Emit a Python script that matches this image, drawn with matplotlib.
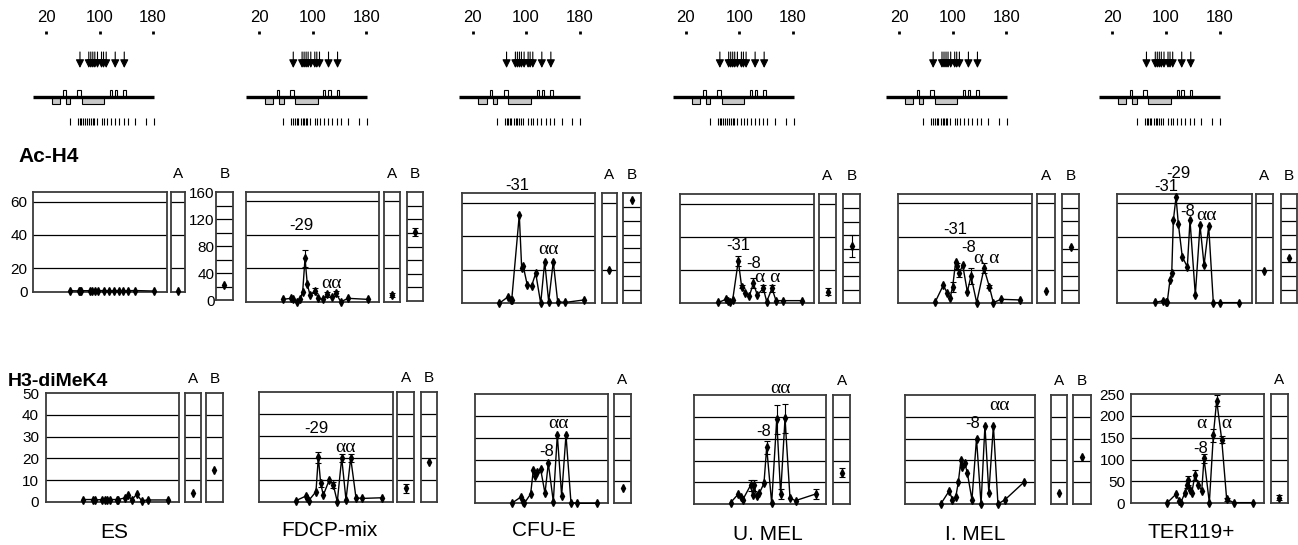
import numpy as np
import matplotlib.pyplot as plt
from matplotlib.patches import Rectangle

plt.rcParams['font.family'] = ['Liberation Sans', 'DejaVu Sans']

W, H = 1298, 545

# ---- gene map (positions on the locus) ----
scale_ticks = [20, 100, 180]
gene_line = [0, 181]
upper_exons = [(46, 49.5), (66.3, 72.3), (115.7, 118.7), (123.1, 126.6), (135.5, 139.6)]
lower_exons = [(28.5, 40.9), (49.9, 56.3), (73.3, 107.1)]
arrow_pos = [70.8, 84, 87, 90, 93, 97, 103, 106, 110, 123.5, 137]
probe_ticks = [56, 68, 71, 73, 76, 78, 82, 85, 87, 90, 92, 96, 103, 107, 111, 117,
               123, 129, 136, 142, 153, 169, 181]

cells = ["ES", "FDCP-mix", "CFU-E", "U. MEL", "I. MEL", "TER119+"]

# ---- Ac-H4 profiles ----
ac_es_x = [54.8, 68.3, 69.8, 71.3, 84.8, 88.8, 92.2, 97.2, 106.1, 113.6, 121.1, 128.1, 134.5, 142, 152, 180.9]
ac_es_y = [6.5, 6.4, 6.6, 6.5, 6.5, 6.6, 6.4, 6.5, 6.6, 6.5, 6.5, 6.6, 6.4, 6.5, 6.6, 6.3]

ac_fdcp_x = [55.6, 68.1, 71.6, 77.6, 81.6, 85.7, 89.2, 92.6, 96.7, 104.2, 109.2, 116.7, 122.7, 129.3, 135.8, 142.9, 154.3, 183.5]
ac_fdcp_y = [1.4, 2, 1.4, 0, 1.4, 6, 25.8, 10.5, 4, 6.5, 2, 1.4, 4.5, 2.6, 5, 0, 2, 1.4]
ac_fdcp_e = [0, 0, 0, 0, 0, 0, 5, 0, 0, 1.5, 0, 0, 1.5, 0, 1.5, 0, 0, 0]

ac_cfue_x = [55.6, 69.2, 72.8, 74.3, 85.7, 89.3, 91.7, 97.7, 104.3, 110.4, 117.9, 123.9, 129.9, 136.8, 143.4, 154.4, 182.9]
ac_cfue_y = [0, 4, 2, 2, 52.7, 20.9, 22, 10.9, 10.5, 17.9, 0, 24.9, 1, 24.9, 1, 0.5, 2]

ac_umel_x = [57.2, 68.7, 72.1, 74.6, 78.6, 87, 92, 97, 103.5, 109.5, 115.4, 124.4, 129.4, 137.3, 143.3, 154.2, 182.6]
ac_umel_y = [0.5, 2.4, 1.6, 1, 2, 25.5, 10, 6.4, 4.4, 12, 5, 9, 1, 9, 1.6, 1.6, 1.6]
ac_umel_e = [0, 0, 0, 0, 0, 3, 1, 0, 0, 3, 0, 2, 0, 2, 0, 0, 0]

ac_imel_x = [55, 67.5, 73.5, 77.5, 81.5, 86, 88.5, 91.5, 96.5, 103.5, 109, 117.5, 128.5, 136.5, 142.5, 154, 183]
ac_imel_y = [0.5, 10.9, 6, 3, 10, 24.9, 22.3, 18, 23, 7, 16.3, 0.4, 20.9, 10, 0.4, 2.4, 2]
ac_imel_e = [0, 0, 0, 0, 3, 0, 2, 2, 0, 0, 5, 0, 3, 1, 0, 0, 0]

ac_ter_x = [56, 68.5, 72.5, 74.4, 78.4, 81, 83.4, 87.4, 90.8, 96.7, 104.2, 108.2, 116.1, 123.1, 129.1, 136, 142.9, 152.8, 181.5]
ac_ter_y = [0.5, 1.6, 0.5, 1, 14, 18, 49.8, 63.7, 47.8, 27.9, 21.9, 49.8, 5, 46.8, 22.9, 46.2, 0.4, 0.4, 0.4]

ac_a_val = [6.3, 4, 19.9, 7, 7.4, 19.5]
ac_a_err = [0, 1, 0, 2, 0, 0]
ac_b_val = [22, 102, 150, 84, 82, 67]
ac_b_err = [0, 6, 0, 16, 0, 0]

# ---- H3-diMeK4 profiles ----
h3_es_x = [56.1, 70.2, 73.7, 83.7, 88.7, 91.2, 96.2, 106.3, 108.8, 118.8, 123.8, 128.8, 136.3, 143.8, 153.8, 183.9]
h3_es_y = [1, 1, 0.8, 1, 1, 1, 1, 1, 1, 1.8, 3, 0.8, 3.4, 0.5, 0.8, 0.8]

h3_fdcp_x = [54.8, 69.7, 71.6, 73.7, 84.6, 88.1, 91.6, 95.5, 104.5, 110.4, 116.4, 123, 129.4, 136.4, 144.3, 153.7, 182.6]
h3_fdcp_y = [0.5, 2.6, 1.5, 0.5, 4.6, 20.4, 8.4, 3, 10, 7.7, 0, 20, 0.8, 20, 1.8, 1.5, 1.8]
h3_fdcp_e = [0, 0, 0, 0, 0, 2.5, 1.5, 0, 0, 1.5, 0, 2, 0, 2, 0, 0, 0]

h3_cfue_x = [55, 68.5, 72.5, 74, 83.5, 87.5, 90, 93.5, 98.5, 105, 110, 117.5, 123.5, 130, 136.5, 144, 152.5, 183.5]
h3_cfue_y = [0, 2.8, 0.5, 0, 4.3, 15.3, 12.5, 14.2, 15.6, 4.6, 18.3, 0.8, 31.3, 3.4, 31.3, 0.3, 0, 0]

h3_umel_x = [55.6, 67.1, 70.7, 73.7, 85.9, 88.9, 90.9, 94.9, 98.9, 106, 110.1, 117.7, 125.3, 131.3, 137.9, 145.5, 154, 184.3]
h3_umel_y = [0.8, 4.7, 3.5, 2, 8.8, 4.3, 8.8, 3.8, 5, 9.6, 26, 0.5, 38.8, 4.7, 39.3, 2.7, 1.7, 4.7]
h3_umel_e = [0, 0, 0, 0, 2.5, 0, 2.5, 0, 0, 0, 3, 0, 6.5, 2.5, 6.5, 0, 0, 2.5]

h3_imel_x = [55, 68, 73, 78, 82, 86, 88, 92, 96, 103, 110, 117, 123, 129, 136, 143, 154, 183]
h3_imel_y = [0, 6, 2, 3, 10, 20, 17, 19, 14, 2, 30, 0, 36, 5, 36, 0, 2, 10]

h3_ter_x = [55, 68, 73, 75, 81.5, 85, 86.5, 89, 91.6, 96.5, 101.5, 106.6, 110, 118, 124, 129, 136.6, 144, 155, 183]
h3_ter_y = [1.5, 21, 6, 1.5, 24, 42, 53, 30.5, 24, 65, 42, 29, 103, 1.5, 156, 235, 145, 9, 1.5, 1.5]
h3_ter_e = [0, 0, 0, 0, 0, 8, 10, 0, 0, 12, 0, 0, 10, 0, 15, 12, 8, 3, 0, 0]

h3_a_val = [4.1, 6.1, 6.9, 14.5, 5, 13]
h3_a_err = [0, 2, 0, 2, 0, 5]
h3_b_val = [14.6, 18, None, None, 21.5, None]

# ---- layout (pixel boxes: x0, y0, x1, y1) ----
ac_main = [(33, 192.3, 166.8, 291.7), (245.7, 191.7, 378.7, 301.7), (462.3, 193.3, 595.3, 303.3),
           (680, 194.3, 814, 303.3), (898.3, 194, 1031.7, 303.3), (1117.3, 194, 1251.7, 303.3)]
ac_abox = [(170.7, 192.3, 185, 291.7), (384.3, 191.7, 400, 301.7), (601.7, 193.3, 616.7, 303.3),
           (819, 194.3, 836, 303.3), (1037.3, 194, 1055, 303.3), (1255.7, 194, 1272.7, 303.3)]
ac_bbox = [(216, 192.3, 232.7, 300), (406.7, 192.3, 423.3, 301), (623.3, 193.3, 641, 303.3),
           (843.3, 194.3, 860, 303.3), (1062.3, 194, 1079, 303.3), (1281, 194, 1297, 303.3)]
h3_main = [(46, 393.3, 179, 501.7), (259.3, 392.3, 393.3, 501.7), (475, 394, 608.3, 503.3),
           (694, 395, 826, 504.3), (905, 395, 1035, 504), (1130.7, 394, 1264, 503.3)]
h3_abox = [(185, 393.3, 201, 501.7), (397.3, 392.3, 414.3, 501.7), (614.3, 394, 630.7, 503.3),
           (833.3, 395, 850, 504.3), (1051, 395, 1067, 504), (1270.7, 394, 1287.7, 503.3)]
h3_bbox = [(206, 393.3, 222.7, 501.7), (420.7, 392.3, 437.3, 501.7), None, None,
           (1073.3, 395, 1090.7, 504.3), None]

fig = plt.figure(figsize=(W / 100, H / 100), dpi=100)


def box(rect, ylim, lines, xlim=(0, 200)):
    x0, y0, x1, y1 = rect
    ax = fig.add_axes([x0 / W, 1 - y1 / H, (x1 - x0) / W, (y1 - y0) / H])
    ax.set_xlim(*xlim)
    ax.set_ylim(*ylim)
    ax.set_xticks([])
    ax.set_yticks([])
    ax.tick_params(length=0, labelsize=11, pad=4)
    for v in lines:
        ax.axhline(v, color="black", lw=0.9, zorder=1)
    for s in ax.spines.values():
        s.set_color("#3a3a3a")
        s.set_linewidth(1.3)
    return ax


def profile(ax, x, y, err=None):
    ax.plot(x, y, color="black", lw=1, marker="d", ms=4, clip_on=False, zorder=3)
    if err is not None:
        x, y, err = np.array(x), np.array(y), np.array(err)
        m = err > 0
        ax.errorbar(x[m], y[m], yerr=err[m], fmt="none", ecolor="black",
                    elinewidth=0.8, capsize=2.5, capthick=0.8, clip_on=False, zorder=3)


def single(ax, v, e=0):
    ax.errorbar([0.5], [v], yerr=[e] if e else None, fmt="d", color="black", ms=4,
                elinewidth=0.8, capsize=2.5, capthick=0.8, clip_on=False, zorder=3)


def label(x, y, s, size=12, **kw):
    fig.text(x / W, 1 - y / H, s, ha="center", va="center", fontsize=size, **kw)


# ---- gene maps ----
for k in range(6):
    x0 = 32.6 + 213.3 * k
    ax = fig.add_axes([x0 / W, 1 - 135 / H, 200 * 0.669 / W, 135 / H])
    ax.set_xlim(0, 200)
    ax.set_ylim(135, 0)
    ax.axis("off")
    for t in scale_ticks:
        ax.text(t, 18, str(t), ha="center", va="center", fontsize=12)
        ax.plot([t, t], [30.5, 34], color="black", lw=2, solid_capstyle="butt")
    for a in arrow_pos:
        ax.annotate("", xy=(a, 68), xytext=(a, 52),
                    arrowprops=dict(arrowstyle="-|>,head_length=0.5,head_width=0.25",
                                    color="black", lw=0.8, mutation_scale=10, shrinkA=0, shrinkB=0))
    for s, e in upper_exons:
        ax.add_patch(Rectangle((s, 90), e - s, 7, fc="white", ec="black", lw=0.8, zorder=2))
    for s, e in lower_exons:
        ax.add_patch(Rectangle((s, 97), e - s, 7, fc="#c8c8c8", ec="black", lw=0.8, zorder=2))
    ax.plot(gene_line, [97, 97], color="black", lw=2.4, zorder=3, solid_capstyle="butt")
    ax.vlines(probe_ticks, 118, 125, color="black", lw=0.8)

# ---- Ac-H4 row ----
fig.text(18 / W, 1 - 156 / H, "Ac-H4", ha="left", va="center", fontsize=15, fontweight="bold")

ac_profiles = [(ac_es_x, ac_es_y, None), (ac_fdcp_x, ac_fdcp_y, ac_fdcp_e), (ac_cfue_x, ac_cfue_y, None),
               (ac_umel_x, ac_umel_y, ac_umel_e), (ac_imel_x, ac_imel_y, ac_imel_e), (ac_ter_x, ac_ter_y, None)]
for k in range(6):
    ylim = (5.9, 65.6) if k == 0 else (0, 65.6)
    ax = box(ac_main[k], ylim, [20, 40, 60])
    x, y, e = ac_profiles[k]
    profile(ax, x, y, e)
    if k == 0:
        ax.set_yticks([5.9, 20, 40, 60], ["0", "20", "40", "60"])
        ax.tick_params(pad=4)
    axa = box(ac_abox[k], ylim, [20, 40, 60], xlim=(0, 1))
    single(axa, ac_a_val[k], ac_a_err[k])
    axb = box(ac_bbox[k], (0, 160), range(20, 160, 20), xlim=(0, 1))
    single(axb, ac_b_val[k], ac_b_err[k])
    if k == 0:
        axb.set_yticks([0, 40, 80, 120, 160])
        axb.tick_params(pad=1)
    for r, t in ((ac_abox[k], "A"), (ac_bbox[k], "B")):
        label((r[0] + r[2]) / 2, r[1] - 18, t, size=11)

# Ac-H4 peak annotations
label(301.7, 226, "-29")
label(331, 283, "αα", family="Liberation Serif", size=14)
label(517.3, 185, "-31")
label(548.3, 250, "αα", family="Liberation Serif", size=14)
label(738.3, 245, "-31")
label(753.3, 264, "-8")
label(768, 277, "α α", family="Liberation Serif", size=14)
label(955, 230, "-31")
label(969, 247.3, "-8")
label(986.7, 258.3, "α α", family="Liberation Serif", size=14)
label(1178.3, 173.3, "-29")
label(1166.7, 186.7, "-31")
label(1187.3, 211.7, "-8")
label(1206.7, 216, "αα", family="Liberation Serif", size=14)

# ---- H3-diMeK4 row ----
fig.text(8 / W, 1 - 381 / H, "H3-diMeK4", ha="left", va="center", fontsize=14, fontweight="bold")

h3_profiles = [(h3_es_x, h3_es_y, None), (h3_fdcp_x, h3_fdcp_y, h3_fdcp_e), (h3_cfue_x, h3_cfue_y, None),
               (h3_umel_x, h3_umel_y, h3_umel_e), (h3_imel_x, h3_imel_y, None), (h3_ter_x, h3_ter_y, h3_ter_e)]
for k in range(6):
    if k == 5:
        ylim, lines = (0, 250), [50, 100, 150, 200]
    else:
        ylim, lines = (0, 50), [10, 20, 30, 40]
    ax = box(h3_main[k], ylim, lines)
    x, y, e = h3_profiles[k]
    profile(ax, x, y, e)
    if k == 0:
        ax.set_yticks([0, 10, 20, 30, 40, 50])
        ax.tick_params(pad=5)
    if k == 5:
        ax.set_yticks([0, 50, 100, 150, 200, 250])
        ax.tick_params(pad=4)
    axa = box(h3_abox[k], ylim, lines, xlim=(0, 1))
    single(axa, h3_a_val[k], h3_a_err[k])
    label((h3_abox[k][0] + h3_abox[k][2]) / 2, h3_abox[k][1] - 14, "A", size=11)
    if h3_bbox[k] is not None:
        axb = box(h3_bbox[k], ylim, lines, xlim=(0, 1))
        single(axb, h3_b_val[k])
        label((h3_bbox[k][0] + h3_bbox[k][2]) / 2, h3_bbox[k][1] - 14, "B", size=11)

label(316.7, 428.3, "-29")
label(345, 447.7, "αα", family="Liberation Serif", size=14)
label(546.7, 451.7, "-8")
label(558.3, 423.3, "αα", family="Liberation Serif", size=14)
label(763.3, 431.7, "-8")
label(780, 388.3, "αα", family="Liberation Serif", size=14)
label(973, 424, "-8")
label(1000, 406, "αα", family="Liberation Serif", size=14)
label(1201, 448.3, "-8")
label(1215, 423.3, "α   α", family="Liberation Serif", size=14)

# ---- cell type labels ----
for cx, cy, name in zip([114, 329, 544, 768, 975, 1191], [533, 530, 530, 534.5, 534.5, 532.5], cells):
    label(cx, cy, name, size=15)

fig.savefig("out.png", dpi=100)
